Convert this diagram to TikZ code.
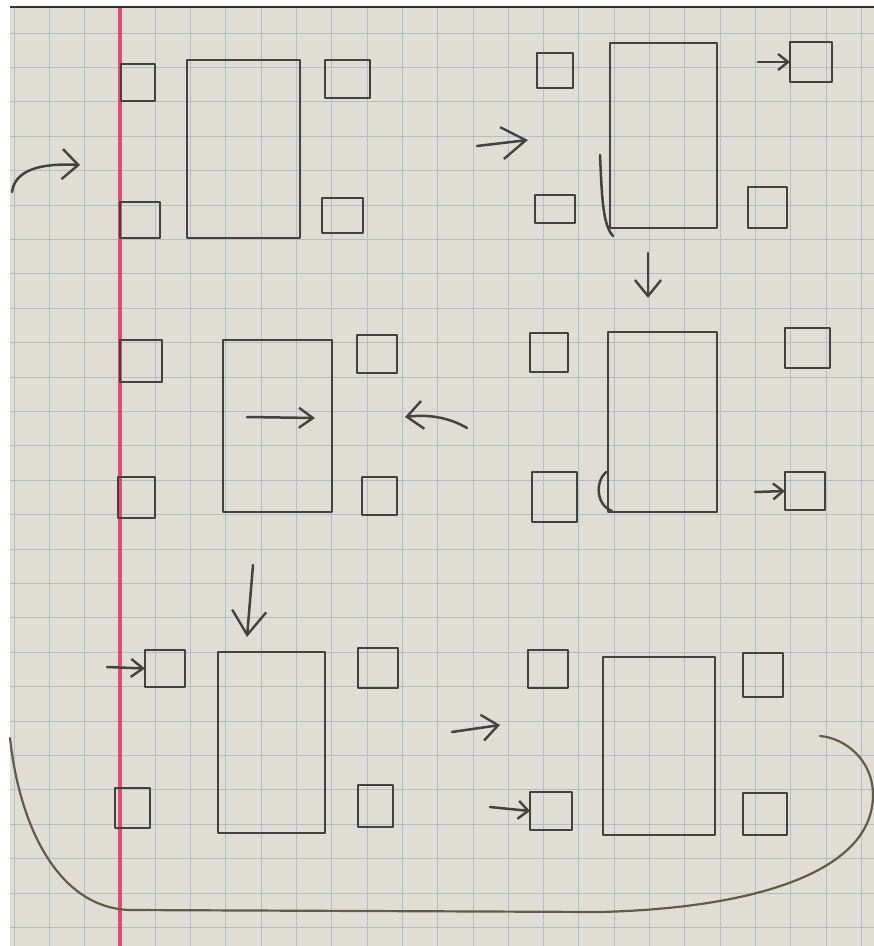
\documentclass[tikz,border=0pt]{standalone}
\usetikzlibrary{arrows.meta}
\definecolor{paper}{RGB}{224,221,212}
\definecolor{gridc}{RGB}{176,190,200}
\definecolor{margin}{RGB}{232,72,118}
\definecolor{pen}{RGB}{68,66,60}
\definecolor{loopc}{RGB}{100,90,74}
\tikzset{
  sq/.style={draw=pen, line width=2.8pt, line join=round, rectangle, inner sep=0pt, outer sep=0pt},
  gridline/.style={draw=gridc, line width=1pt},
  arr/.style={draw=pen, line width=2.5pt, line cap=round},
  head/.style 2 args={-{Straight Barb[length=#1pt, width=#2pt, line width=2.4pt]}},
}
\newcommand\sqbox[5]{\node[sq, minimum width=#4pt, minimum height=#5pt] (#1) at (#2,#3) {};}
\begin{document}
\begin{tikzpicture}[x=1pt, y=-1pt]
\useasboundingbox (0,0) rectangle (874,946);
% paper
\fill[white] (0,0) rectangle (874,946);
\fill[paper] (10,7) rectangle (874,946);
\begin{scope}
\clip (10,7) rectangle (874,946);
\foreach \k in {0,...,24} \draw[gridline] ({14.1+35.3*\k},7) -- ({14.1+35.3*\k},946);
\foreach \k in {0,...,27} \draw[gridline] (10,{33+34.4*\k}) -- (874,{33+34.4*\k});
\draw[margin, line width=3.5pt] (120,7) -- (120,946);
\end{scope}
\draw[black!80, line width=1.5pt] (10,7) -- (874,7);

% panel 1 (top-left)
\sqbox{p1tl}{138}{82.5}{34}{37}
\sqbox{p1big}{243.5}{149}{113}{178}
\sqbox{p1tr}{347.5}{79}{45}{38}
\sqbox{p1bl}{140}{220}{40}{36}
\sqbox{p1br}{342.5}{215.5}{41}{35}

% panel 2 (top-right)
\sqbox{p2tl}{555}{70.5}{36}{35}
\sqbox{p2big}{663.5}{135.5}{107}{185}
\sqbox{p2tr}{811}{62}{42}{40}
\sqbox{p2bl}{555}{209}{40}{28}
\sqbox{p2br}{767.5}{207.5}{39}{41}
\draw[arr] (600,155) .. controls (602,200) and (603,225) .. (613,236);

% panel 3 (middle-left)
\sqbox{p3tl}{141}{361}{42}{42}
\sqbox{p3big}{277.5}{426}{109}{172}
\sqbox{p3tr}{377}{354}{40}{38}
\sqbox{p3bl}{136.5}{497.5}{37}{41}
\sqbox{p3br}{379.5}{496}{35}{38}

% panel 4 (middle-right)
\sqbox{p4tl}{549}{352.5}{38}{39}
\sqbox{p4big}{662.5}{422}{109}{180}
\sqbox{p4tr}{807.5}{348}{45}{40}
\sqbox{p4bl}{554.5}{497}{45}{50}
\sqbox{p4br}{805}{491}{40}{38}
\draw[arr] (606,472) .. controls (595,482) and (596,505) .. (612,511);

% panel 5 (bottom-left)
\sqbox{p5tl}{165}{668.5}{40}{37}
\sqbox{p5big}{271.5}{742.5}{107}{181}
\sqbox{p5tr}{378}{668}{40}{40}
\sqbox{p5bl}{132.5}{808}{35}{40}
\sqbox{p5br}{375.5}{806}{35}{42}

% panel 6 (bottom-right)
\sqbox{p6tl}{548}{669}{40}{38}
\sqbox{p6big}{659}{746}{112}{178}
\sqbox{p6tr}{763}{675}{40}{44}
\sqbox{p6bl}{551}{811}{42}{38}
\sqbox{p6br}{765}{814}{44}{42}

% arrow coordinates
\coordinate (a0s) at (12,192);   \coordinate (a0e) at (80,165);
\coordinate (a1s) at (477,146);  \coordinate (a1e) at (528,140);
\coordinate (a2s) at (758,62);
\coordinate (a3s) at (648,253);  \coordinate (a3e) at (648,298);
\coordinate (a4s) at (467,428);  \coordinate (a4e) at (405,417);
\coordinate (a5s) at (755,492);
\coordinate (a6s) at (247,417);  \coordinate (a6e) at (315,418);
\coordinate (a7s) at (253,565);  \coordinate (a7e) at (247,637);
\coordinate (a8s) at (107,667);
\coordinate (a9s) at (452,732);  \coordinate (a9e) at (500,725);
\coordinate (a10s) at (490,807);
\coordinate (ls) at (10,738);    \coordinate (le) at (820,736);

% arrows
\draw[arr, head={16}{30}] (a0s) .. controls (15,170) and (40,163) .. (a0e);
\draw[arr, head={24}{32}] (a1s) -- (a1e);
\draw[arr, head={10}{16}] (a2s) -- (p2tr.west);
\draw[arr, head={16}{26}] (a3s) -- (a3e);
\draw[arr, head={16}{28}] (a4s) .. controls (450,418) and (430,414) .. (a4e);
\draw[arr, head={10}{16}] (a5s) -- (p4br.west);
\draw[arr, head={14}{20}] (a6s) -- (a6e);
\draw[arr, head={24}{34}] (a7s) -- (a7e);
\draw[arr, head={12}{18}] (a8s) -- (p5tl.west);
\draw[arr, head={16}{26}] (a9s) -- (a9e);
\draw[arr, head={10}{18}] (a10s) -- (p6bl.west);

% return loop
\draw[loopc, line width=2.2pt, line cap=round]
  (ls) .. controls (20,830) and (60,908) .. (130,910)
  -- (600,912) .. controls (760,908) and (873,870) .. (873,795)
  .. controls (873,760) and (845,738) .. (le);
\end{tikzpicture}
\end{document}
